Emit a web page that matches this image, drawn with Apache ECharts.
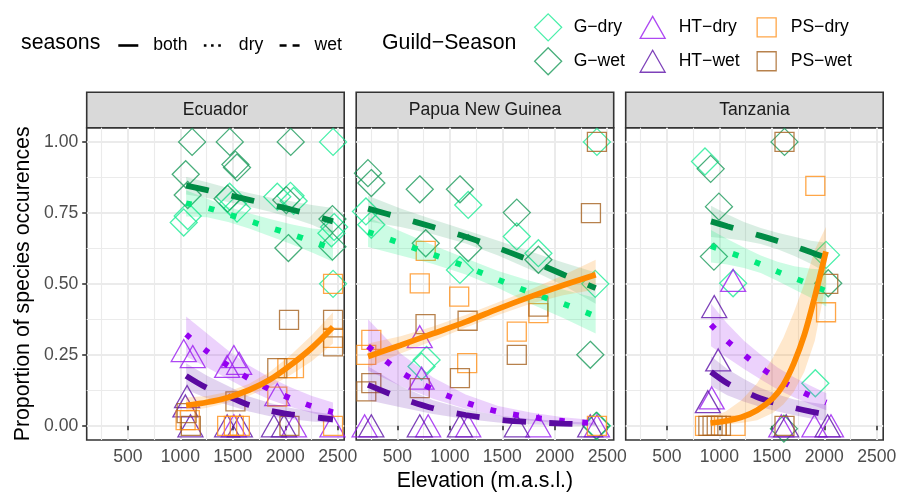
<!DOCTYPE html>
<html><head><meta charset="utf-8">
<script src="https://cdn.jsdelivr.net/npm/echarts@6/dist/echarts.min.js"></script>
<style>html,body{margin:0;padding:0;background:#fff}#c{width:898px;height:494px}</style>
</head><body><div id="c"></div>
<script>
// ---------- tick labels / categories ----------
const panels = ['Ecuador', 'Papua New Guinea', 'Tanzania'];
const groups = ['G−dry', 'G−wet', 'HT−dry', 'HT−wet', 'PS−dry', 'PS−wet'];
const seasons = ['both', 'dry', 'wet'];
const xTicks = [500, 1000, 1500, 2000, 2500];
const xMinor = [250, 750, 1250, 1750, 2250];
const yTicks = [0, 0.25, 0.5, 0.75, 1];
const yMinor = [0.125, 0.375, 0.625, 0.875];

// ---------- observed points [elevation, proportion] ----------
// Ecuador
const E_Gdry = [[1032,0.716],[1070,0.739],[1470,0.807],[1500,0.782],[1540,0.765],[1924,0.807],[2050,0.81],[2080,0.792],[2456,1.0],[2466,0.70],[2440,0.678],[2456,0.50]];
const E_Gwet = [[1112,1.0],[1471,1.0],[2052,1.0],[1525,0.92],[1540,0.91],[1051,0.886],[1070,0.813],[1450,0.80],[2010,0.795],[2030,0.626],[2450,0.728],[2450,0.631]];
const E_HTdry = [[1032,0.265],[1118,0.244],[1510,0.244],[1560,0.22],[1446,0.209],[1924,0.11],[1510,0.0],[2083,0.0],[2450,0.0]];
const E_HTwet = [[1064,0.103],[1048,0.07],[1096,0.0],[1446,0.0],[1567,0.0],[1892,0.0],[1988,0.0]];
const E_PSdry = [[2456,0.50],[2456,0.31],[2020,0.203],[2083,0.203],[1924,0.103],[1446,0.0],[1510,0.0],[1567,0.0],[1050,0.02],[1090,0.02],[2456,0.0]];
const E_PSwet = [[2036,0.373],[2456,0.373],[2456,0.28],[1924,0.203],[1525,0.086],[1060,0.045],[1100,0.0],[2040,0.0]];
// Papua New Guinea
const P_Gdry = [[200,0.755],[251,0.708],[730,0.209],[778,0.232],[1096,0.549],[1175,0.778],[1638,0.667],[1844,0.608],[2386,0.50],[2402,1.0],[2402,0.0]];
const P_Gwet = [[219,0.89],[251,0.855],[713,0.833],[770,0.643],[1096,0.833],[1175,0.626],[1638,0.751],[1844,0.585],[2339,0.25],[2395,0.0]];
const P_HTdry = [[713,0.314],[730,0.168],[187,0.0],[793,0.0],[1175,0.0],[1844,0.0],[2402,0.0]];
const P_HTwet = [[251,0.0],[713,0.0],[1096,0.0],[1638,0.0],[2338,0.0]];
const P_PSdry = [[203,0.25],[251,0.303],[713,0.502],[770,0.616],[1089,0.455],[1165,0.221],[1638,0.332],[1844,0.397],[2402,0.0]];
const P_PSwet = [[203,0.121],[251,0.15],[713,0.133],[768,0.358],[1096,0.168],[1169,0.37],[1638,0.25],[1844,0.42],[2345,0.749],[2402,1.0]];
// Tanzania
const T_Gdry = [[863,0.931],[1131,0.502],[1915,0.15],[2017,0.602]];
const T_Gwet = [[917,0.905],[996,0.772],[948,0.596],[1621,1.0],[2038,0.502],[1615,-0.01]];
const T_HTdry = [[1131,0.512],[927,0.098],[1590,0.0],[1906,0.0],[2064,0.0]];
const T_HTwet = [[951,0.42],[989,0.232],[890,0.085],[1637,0.0],[2032,0.0]];
const T_PSdry = [[1915,0.845],[2017,0.40],[863,0.0],[1154,0.0]];
const T_PSwet = [[1621,1.0],[2038,0.50],[895,0.0],[935,0.0],[975,0.0],[1015,0.0],[1621,0.0]];

// ---------- fitted curves with confidence bands ----------
const E_x = [1055,1255,1455,1655,1855,2055,2255,2455];
const E_Gwet_fit = [0.846,0.830,0.813,0.796,0.779,0.762,0.742,0.720];
const E_Gwet_lo  = [0.815,0.802,0.788,0.772,0.754,0.733,0.708,0.675];
const E_Gwet_hi  = [0.876,0.858,0.838,0.820,0.804,0.791,0.778,0.767];
const E_Gdry_fit = [0.784,0.768,0.745,0.722,0.698,0.675,0.650,0.624];
const E_Gdry_lo  = [0.737,0.735,0.718,0.695,0.668,0.640,0.610,0.578];
const E_Gdry_hi  = [0.830,0.800,0.772,0.749,0.728,0.710,0.695,0.690];
const E_HTdry_fit = [0.322,0.262,0.212,0.166,0.128,0.096,0.069,0.048];
const E_HTdry_lo  = [0.244,0.205,0.165,0.125,0.092,0.066,0.045,0.028];
const E_HTdry_hi  = [0.385,0.325,0.265,0.212,0.170,0.135,0.105,0.082];
const E_HTwet_fit = [0.176,0.133,0.104,0.073,0.053,0.040,0.031,0.023];
const E_HTwet_lo  = [0.127,0.097,0.073,0.050,0.034,0.023,0.015,0.010];
const E_HTwet_hi  = [0.220,0.176,0.140,0.103,0.080,0.063,0.050,0.040];
const E_PS_fit = [0.072,0.083,0.100,0.126,0.163,0.215,0.275,0.348];
const E_PS_lo  = [0.050,0.064,0.082,0.106,0.138,0.180,0.228,0.290];
const E_PS_hi  = [0.100,0.105,0.120,0.148,0.190,0.250,0.320,0.400];

const P_x = [220,530,840,1150,1460,1770,2080,2390];
const P_Gwet_fit = [0.765,0.733,0.700,0.666,0.626,0.582,0.533,0.485];
const P_Gwet_lo  = [0.720,0.700,0.675,0.642,0.600,0.550,0.495,0.430];
const P_Gwet_hi  = [0.810,0.765,0.727,0.690,0.652,0.614,0.575,0.540];
const P_Gdry_fit = [0.683,0.643,0.603,0.561,0.515,0.469,0.430,0.386];
const P_Gdry_lo  = [0.630,0.600,0.570,0.533,0.485,0.430,0.380,0.325];
const P_Gdry_hi  = [0.735,0.685,0.636,0.590,0.545,0.510,0.480,0.450];
const P_HTdry_fit = [0.280,0.190,0.128,0.082,0.050,0.031,0.017,0.009];
const P_HTdry_lo  = [0.195,0.140,0.095,0.060,0.035,0.018,0.008,0.003];
const P_HTdry_hi  = [0.375,0.255,0.170,0.110,0.070,0.047,0.030,0.020];
const P_HTwet_fit = [0.144,0.098,0.062,0.038,0.022,0.013,0.008,0.004];
const P_HTwet_lo  = [0.090,0.065,0.042,0.024,0.012,0.005,0.002,0.000];
const P_HTwet_hi  = [0.210,0.140,0.090,0.058,0.036,0.024,0.016,0.010];
const P_PS_fit = [0.244,0.284,0.325,0.366,0.412,0.455,0.495,0.532];
const P_PS_lo  = [0.205,0.255,0.300,0.345,0.390,0.430,0.460,0.480];
const P_PS_hi  = [0.290,0.315,0.350,0.390,0.435,0.480,0.530,0.585];

const T_x = [920,1075,1235,1395,1555,1715,1875,2020];
const T_Gwet_fit = [0.720,0.703,0.686,0.669,0.651,0.632,0.611,0.592];
const T_Gwet_lo  = [0.665,0.660,0.652,0.640,0.622,0.598,0.570,0.540];
const T_Gwet_hi  = [0.775,0.745,0.718,0.697,0.680,0.666,0.652,0.645];
const T_Gdry_fit = [0.633,0.613,0.592,0.569,0.543,0.520,0.497,0.474];
const T_Gdry_lo  = [0.575,0.568,0.556,0.538,0.510,0.480,0.450,0.420];
const T_Gdry_hi  = [0.690,0.658,0.628,0.600,0.578,0.562,0.553,0.550];
const T_HTdry_fit = [0.356,0.299,0.250,0.205,0.166,0.133,0.104,0.082];
const T_HTdry_lo  = [0.280,0.240,0.200,0.163,0.128,0.100,0.075,0.055];
const T_HTdry_hi  = [0.430,0.360,0.300,0.250,0.205,0.170,0.140,0.115];
const T_HTwet_fit = [0.190,0.150,0.122,0.096,0.078,0.063,0.050,0.040];
const T_HTwet_lo  = [0.140,0.108,0.085,0.066,0.050,0.037,0.026,0.017];
const T_HTwet_hi  = [0.245,0.200,0.165,0.133,0.110,0.093,0.082,0.075];
const T_PS_x   = [915,1060,1210,1360,1510,1610,1710,1810,1910,2016];
const T_PS_fit = [0.009,0.017,0.030,0.055,0.097,0.145,0.220,0.320,0.455,0.614];
const T_PS_lo  = [0.002,0.005,0.010,0.020,0.045,0.075,0.120,0.190,0.300,0.500];
const T_PS_hi  = [0.030,0.050,0.090,0.150,0.240,0.310,0.400,0.500,0.620,0.700];

// ---------- styling ----------
const FONT = 'Liberation Sans, Arial, Helvetica, sans-serif';
const groupStyle = {
  'G−dry':  {symbol: 'diamond',  size: [27, 27], color: '#1DEB95'},
  'G−wet':  {symbol: 'diamond',  size: [27, 27], color: '#1A9A5A'},
  'HT−dry': {symbol: 'triangle', size: [25, 22], color: '#9A1AF0'},
  'HT−wet': {symbol: 'triangle', size: [25, 22], color: '#5E12A8'},
  'PS−dry': {symbol: 'rect',     size: [19, 19], color: '#FF9019'},
  'PS−wet': {symbol: 'rect',     size: [19, 19], color: '#A5621F'}
};
const curveStyle = {
  Gdry:  {season: 'dry',  line: '#00EB7C', band: 'rgba(0,238,118,0.20)'},
  Gwet:  {season: 'wet',  line: '#008B45', band: 'rgba(0,139,69,0.15)'},
  HTdry: {season: 'dry',  line: '#9400F0', band: 'rgba(160,32,240,0.20)'},
  HTwet: {season: 'wet',  line: '#5A0AA0', band: 'rgba(110,40,180,0.20)'},
  PS:    {season: 'both', line: '#FF8A00', band: 'rgba(255,140,0,0.20)'}
};
const dashType = {both: 'solid', dry: [5.8, 17.4], wet: [23.3, 23.3]};

const pointSets = [
  {'G−dry': E_Gdry, 'G−wet': E_Gwet, 'HT−dry': E_HTdry, 'HT−wet': E_HTwet, 'PS−dry': E_PSdry, 'PS−wet': E_PSwet},
  {'G−dry': P_Gdry, 'G−wet': P_Gwet, 'HT−dry': P_HTdry, 'HT−wet': P_HTwet, 'PS−dry': P_PSdry, 'PS−wet': P_PSwet},
  {'G−dry': T_Gdry, 'G−wet': T_Gwet, 'HT−dry': T_HTdry, 'HT−wet': T_HTwet, 'PS−dry': T_PSdry, 'PS−wet': T_PSwet}
];
const curveSets = [
  [['Gwet', E_x, E_Gwet_fit, E_Gwet_lo, E_Gwet_hi], ['Gdry', E_x, E_Gdry_fit, E_Gdry_lo, E_Gdry_hi],
   ['HTdry', E_x, E_HTdry_fit, E_HTdry_lo, E_HTdry_hi], ['HTwet', E_x, E_HTwet_fit, E_HTwet_lo, E_HTwet_hi],
   ['PS', E_x, E_PS_fit, E_PS_lo, E_PS_hi]],
  [['Gwet', P_x, P_Gwet_fit, P_Gwet_lo, P_Gwet_hi], ['Gdry', P_x, P_Gdry_fit, P_Gdry_lo, P_Gdry_hi],
   ['HTdry', P_x, P_HTdry_fit, P_HTdry_lo, P_HTdry_hi], ['HTwet', P_x, P_HTwet_fit, P_HTwet_lo, P_HTwet_hi],
   ['PS', P_x, P_PS_fit, P_PS_lo, P_PS_hi]],
  [['Gwet', T_x, T_Gwet_fit, T_Gwet_lo, T_Gwet_hi], ['Gdry', T_x, T_Gdry_fit, T_Gdry_lo, T_Gdry_hi],
   ['HTdry', T_x, T_HTdry_fit, T_HTdry_lo, T_HTdry_hi], ['HTwet', T_x, T_HTwet_fit, T_HTwet_lo, T_HTwet_hi],
   ['PS', T_PS_x, T_PS_fit, T_PS_lo, T_PS_hi]]
];

// ---------- layout ----------
const panelLeft = [86.7, 356.2, 625.7];
const panelW = 257.5, panelTop = 127.7, panelH = 312.3;
const stripTop = 92.3, stripH = 35.4;
const xMin = 107, xMax = 2562, yMin = -0.05, yMax = 1.05;

const grids = [], xAxes = [], yAxes = [], series = [], titles = [];
panels.forEach((p, i) => {
  grids.push({left: panelLeft[i], top: panelTop, width: panelW, height: panelH, show: true,
    backgroundColor: '#FFFFFF', borderColor: '#333333', borderWidth: 1.6, outerBoundsMode: 'none', containLabel: false});
  // major x
  xAxes.push({type: 'value', gridIndex: i, min: xMin, max: xMax, position: 'bottom',
    axisLine: {show: false},
    axisTick: {show: true, customValues: xTicks, length: 4.5, lineStyle: {color: '#333333', width: 1.6}},
    axisLabel: {show: true, customValues: xTicks, margin: 8, fontSize: 17.6, color: '#4D4D4D', fontFamily: FONT,
      formatter: v => String(v)},
    splitLine: {show: true, lineStyle: {color: '#EBEBEB', width: 2}},
    name: i === 1 ? 'Elevation (m.a.s.l.)' : '', nameLocation: 'middle', nameGap: 30,
    nameTextStyle: {fontSize: 21.3, color: '#000000', fontFamily: FONT}
  });
  // minor x
  xAxes.push({type: 'value', gridIndex: i, min: xMin, max: xMax, position: 'top',
    axisLine: {show: false}, axisTick: {show: false, customValues: xMinor}, axisLabel: {show: false},
    splitLine: {show: true, lineStyle: {color: '#EBEBEB', width: 1.1}}});
  // major y
  yAxes.push({type: 'value', gridIndex: i, min: yMin, max: yMax, position: 'left',
    axisLine: {show: false},
    axisTick: {show: i === 0, customValues: yTicks, length: 4.5, lineStyle: {color: '#333333', width: 1.6}},
    axisLabel: {show: i === 0, customValues: yTicks, margin: 8.5, fontSize: 17.6, color: '#4D4D4D', fontFamily: FONT,
      formatter: v => v.toFixed(2)},
    splitLine: {show: true, lineStyle: {color: '#EBEBEB', width: 2}},
    name: i === 0 ? 'Proportion of species occurences' : '', nameLocation: 'middle', nameGap: 53,
    nameTextStyle: {fontSize: 21.3, color: '#000000', fontFamily: FONT}
  });
  // minor y
  yAxes.push({type: 'value', gridIndex: i, min: yMin, max: yMax, position: 'right',
    axisLine: {show: false}, axisTick: {show: false, customValues: yMinor}, axisLabel: {show: false},
    splitLine: {show: true, lineStyle: {color: '#EBEBEB', width: 1.1}}});
  titles.push({text: p, left: panelLeft[i] + panelW / 2, top: stripTop + stripH / 2, textAlign: 'center',
    textVerticalAlign: 'middle', padding: 0,
    textStyle: {fontSize: 17.6, fontWeight: 'normal', color: '#1A1A1A', fontFamily: FONT}});

  // points
  groups.forEach(g => {
    const st = groupStyle[g];
    series.push({type: 'scatter', name: g, xAxisIndex: 2 * i, yAxisIndex: 2 * i, z: 2,
      symbol: st.symbol, symbolSize: st.size, clip: true,
      itemStyle: {color: 'rgba(0,0,0,0)', borderColor: st.color, borderWidth: 1.3},
      emphasis: {disabled: true},
      data: pointSets[i][g]});
  });
});

// bands then lines
panels.forEach((p, i) => {
  curveSets[i].forEach(([key, xs, fit, lo, hi]) => {
    const cs = curveStyle[key];
    series.push({type: 'custom', xAxisIndex: 2 * i, yAxisIndex: 2 * i, z: 3, silent: true,
      data: xs.map((x, k) => [x, lo[k], hi[k]]),
      encode: {x: 0, y: [1, 2]},
      renderItem: (params, api) => {
        if (params.dataIndex !== 0) return null;
        const top = xs.map((x, k) => api.coord([x, hi[k]]));
        const bot = xs.map((x, k) => api.coord([x, lo[k]])).reverse();
        return {type: 'polygon', shape: {points: top.concat(bot)}, style: {fill: cs.band}};
      }});
  });
});
panels.forEach((p, i) => {
  curveSets[i].forEach(([key, xs, fit]) => {
    const cs = curveStyle[key];
    series.push({type: 'line', name: cs.season, xAxisIndex: 2 * i, yAxisIndex: 2 * i, z: 4,
      symbol: 'none', smooth: 0.3, silent: true,
      lineStyle: {color: cs.line, width: 5.8, type: dashType[cs.season], cap: 'butt'},
      emphasis: {disabled: true},
      data: xs.map((x, k) => [x, fit[k]])});
  });
});

// strip backgrounds as extra grids
panels.forEach((p, i) => {
  grids.push({left: panelLeft[i], top: stripTop, width: panelW, height: stripH, show: true,
    backgroundColor: '#D9D9D9', borderColor: '#333333', borderWidth: 1.6, outerBoundsMode: 'none', containLabel: false});
});

titles.push({text: 'seasons', left: 21, top: 43.5, textAlign: 'left', textVerticalAlign: 'middle', padding: 0,
  textStyle: {fontSize: 21.3, fontWeight: 'normal', color: '#000', fontFamily: FONT}});
titles.push({text: 'Guild−Season', left: 382, top: 43.5, textAlign: 'left', textVerticalAlign: 'middle', padding: 0,
  textStyle: {fontSize: 21.3, fontWeight: 'normal', color: '#000', fontFamily: FONT}});

const legendText = {fontSize: 17.6, color: '#000', fontFamily: FONT, lineHeight: 18};
const legends = [
  {data: ['G−dry', 'G−wet'], orient: 'vertical', left: 534, top: 13.2, padding: 0, itemWidth: 27, itemHeight: 27, itemGap: 5.6,
   selectedMode: false, itemStyle: {borderWidth: 1.3}, textStyle: Object.assign({padding: [0, 0, 0, 7]}, legendText)},
  {data: ['HT−dry', 'HT−wet'], orient: 'vertical', left: 639.5, top: 15.7, padding: 0, itemWidth: 25, itemHeight: 22, itemGap: 10.6,
   selectedMode: false, itemStyle: {borderWidth: 1.3}, textStyle: Object.assign({padding: [0, 0, 0, 8.5]}, legendText)},
  {data: ['PS−dry', 'PS−wet'], orient: 'vertical', left: 756.5, top: 17.2, padding: 0, itemWidth: 19, itemHeight: 19, itemGap: 13.6,
   selectedMode: false, itemStyle: {borderWidth: 1.3}, textStyle: Object.assign({padding: [0, 0, 0, 9.5]}, legendText)},
  {data: seasons.map(s => ({name: s,
      lineStyle: {color: '#000', width: 2.6, type: s === 'both' ? 'solid' : (s === 'dry' ? [2.6, 4.6] : [7, 6]), cap: 'butt'},
      itemStyle: {opacity: 0}})),
   orient: 'horizontal', left: 117, top: 36.5, padding: 0, itemWidth: 20, itemHeight: 14, itemGap: 15,
   selectedMode: false, textStyle: Object.assign({padding: [0, 0, 0, 10]}, legendText)}
];

const chart = echarts.init(document.getElementById('c'), null, {renderer: 'canvas'});
chart.setOption({
  animation: false,
  backgroundColor: '#FFFFFF',
  textStyle: {fontFamily: FONT},
  title: titles,
  legend: legends,
  grid: grids,
  xAxis: xAxes,
  yAxis: yAxes,
  series: series
});
</script></body></html>
